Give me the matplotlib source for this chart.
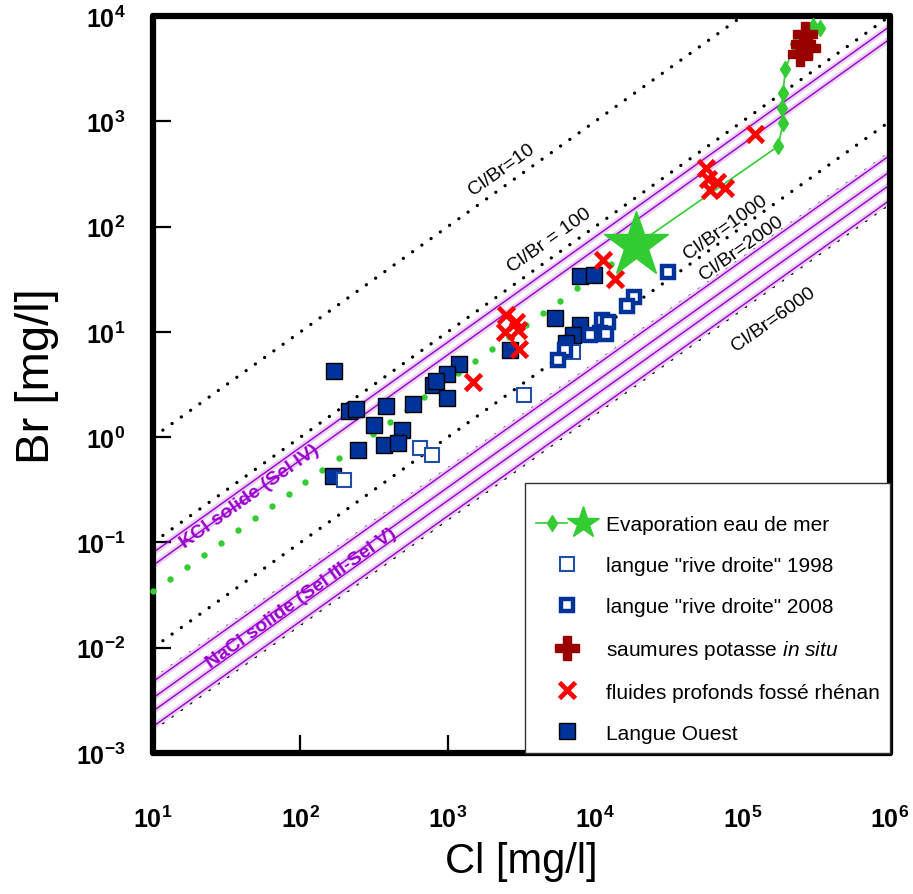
import numpy as np
import matplotlib
matplotlib.use("Agg")
import matplotlib.pyplot as plt
from matplotlib.lines import Line2D
from matplotlib.patches import Rectangle
from matplotlib.legend_handler import HandlerTuple

plt.rcParams['font.family'] = ['Liberation Sans', 'DejaVu Sans']
plt.rcParams['mathtext.fontset'] = 'custom'
plt.rcParams['mathtext.rm'] = 'Liberation Sans'
plt.rcParams['mathtext.bf'] = 'Liberation Sans:bold'
plt.rcParams['mathtext.it'] = 'Liberation Sans:italic'

# --- data (mg/l) ---
# sea water dilution points (green dots)
dil_cl = [10, 13.0, 17.0, 22.1, 28.8, 37.6, 49.0, 63.8, 83.2, 108, 141, 184, 240, 313,
          407, 531, 692, 902, 1175, 1531, 1995, 2600, 3388, 4416, 5754, 7499, 9772, 12735]
dil_br = [0.0345, 0.0448, 0.0586, 0.0762, 0.0993, 0.130, 0.169, 0.220, 0.287, 0.372,
          0.486, 0.634, 0.828, 1.08, 1.40, 1.83, 2.39, 3.11, 4.05, 5.28, 6.88, 8.97,
          11.7, 15.2, 19.8, 25.9, 33.7, 43.9]

# sea water (star) and evaporation path
sw_cl, sw_br = 19000, 67
evap_cl = [19000, 174000, 188000, 185000, 188000, 195000, 227000, 301000, 335000]
evap_br = [67, 578, 957, 1330, 1850, 3130, 5410, 8030, 7690]
evap_mk_cl = evap_cl[1:]
evap_mk_br = evap_br[1:]

# langue "rive droite" 1998
rd98_cl = [197, 644, 777, 3270, 7110]
rd98_br = [0.389, 0.785, 0.674, 2.51, 6.45]

# langue "rive droite" 2008
rd08_cl = [31300, 18200, 16500, 11200, 12300, 10800, 11900, 9270, 6280, 5550]
rd08_br = [37.3, 21.5, 17.7, 13.0, 12.5, 9.78, 9.57, 9.36, 6.74, 5.41]

# saumures potasse in situ
pot_cl = [265000, 257000, 245000, 278000]
pot_br = [6740, 5410, 4350, 4950]

# fluides profonds fosse rhenan
fp_cl = [1473, 2466, 2880, 2427, 2972, 3020, 11380, 13700, 56600, 58400, 67300,
         60300, 76200, 121700]
fp_br = [3.34, 14.5, 12.4, 10.0, 10.4, 6.89, 48.5, 32.0, 357, 286, 268, 225, 230, 751]

# Langue Ouest
lo_cl = [168, 213, 237, 379, 578, 314, 486, 245, 367, 457, 166, 1183, 982, 789, 826,
         982, 2660, 7940, 9890, 5370, 7940, 7020, 6380]
lo_br = [4.26, 1.77, 1.85, 1.97, 2.06, 1.30, 1.17, 0.75, 0.84, 0.88, 0.43, 4.96, 3.98,
         3.13, 3.41, 2.35, 6.74, 34.1, 34.9, 13.6, 11.7, 9.36, 7.85]

# Cl/Br reference ratios and solid salt bands
ratios = [10, 100, 1000, 2000, 6000]
ratio_labels = ["Cl/Br=10", "Cl/Br = 100", "Cl/Br=1000", "Cl/Br=2000", "Cl/Br=6000"]
ratio_label_pos = [(2300, 350), (4900, 75), (77000, 99), (97500, 62.6), (163000, 13.2)]
kcl_ratios = [125, 165]
nacl_ratios = [2100, 3000, 4000, 5600]

GREEN = '#33cc33'
NAVY = '#003399'
PURPLE = '#9900cc'

fig = plt.figure(figsize=(9.13, 8.95), dpi=100)
ax = fig.add_axes([0.1676, 0.1575, 0.8072, 0.8235])
ax.set_xscale('log')
ax.set_yscale('log')
ax.set_xlim(10, 1e6)
ax.set_ylim(1e-3, 1e4)

cl_line = np.array([1.0, 1e7])

for r in ratios:
    ax.plot(cl_line, cl_line / r, color='black', lw=2.4,
            linestyle=(0, (0.01, 3.4)), dash_capstyle='round', zorder=1)

for r in kcl_ratios + nacl_ratios:
    ax.plot(cl_line, cl_line / r, color='#ead0f5', lw=4.2, zorder=1.5)
    ax.plot(cl_line, cl_line / r, color=PURPLE, lw=1.0, zorder=1.6)

ang = 35.5
for lab, (x, y) in zip(ratio_labels, ratio_label_pos):
    ax.text(x, y, lab, rotation=ang, rotation_mode='anchor', ha='center',
            va='center', fontsize=14, color='black', zorder=2)
ax.text(45.5, 0.277, "KCl solide (Sel IV)", rotation=ang, rotation_mode='anchor',
        ha='center', va='center', fontsize=14, fontweight='bold', color=PURPLE, zorder=2)
ax.text(101, 0.0303, "NaCl solide (Sel III-Sel V)", rotation=ang, rotation_mode='anchor',
        ha='center', va='center', fontsize=14, fontweight='bold', color=PURPLE, zorder=2)

# sea water dilution + evaporation
ax.plot(dil_cl, dil_br, linestyle='none', marker='o', ms=4.6, color=GREEN,
        mec='none', zorder=3, clip_on=False)
ax.plot(evap_cl, evap_br, color=GREEN, lw=1.2, zorder=3)
ax.plot(evap_mk_cl, evap_mk_br, linestyle='none', marker='d', ms=7.8, color=GREEN,
        mec=GREEN, zorder=3)

ax.plot(lo_cl, lo_br, linestyle='none', marker='s', ms=11, mfc=NAVY, mec='black',
        mew=1.0, zorder=4)
ax.plot(rd98_cl, rd98_br, linestyle='none', marker='s', ms=10.5, mfc='white',
        mec='#1f4fa8', mew=1.5, zorder=4)
ax.plot(rd08_cl, rd08_br, linestyle='none', marker='s', ms=8.5, mfc='white',
        mec=NAVY, mew=3.2, zorder=4)
ax.plot(fp_cl, fp_br, linestyle='none', marker='x', ms=11, mec='#ff0000',
        mew=3.4, zorder=5)
ax.plot(sw_cl, sw_br, linestyle='none', marker='*', ms=49, color=GREEN,
        mec=GREEN, zorder=5)
ax.plot(pot_cl, pot_br, linestyle='none', marker='P', ms=17, color='#990000',
        mec='#990000', zorder=6)

# axes styling
for sp in ax.spines.values():
    sp.set_linewidth(4.5)
    sp.set_capstyle('round')
    sp.set_joinstyle('round')

ax.minorticks_off()
ax.set_xticks([10.0 ** k for k in range(1, 7)])
ax.set_yticks([10.0 ** k for k in range(-3, 5)])
ax.set_xticklabels([r'$\mathbf{10^{%d}}$' % k for k in range(1, 7)])
ax.set_yticklabels([r'$\mathbf{10^{%d}}$' % k for k in range(-3, 5)])
ax.tick_params(axis='both', which='major', direction='in', length=13, width=1.6,
               labelsize=18)
ax.tick_params(axis='x', pad=38)
ax.tick_params(axis='y', pad=20)

ax.set_xlabel("Cl [mg/l]", fontsize=30, labelpad=6)
ax.set_ylabel("Br [mg/l]", fontsize=34)
ax.yaxis.set_label_coords(-0.128, 0.513)

# legend frame box
ax.add_patch(Rectangle((0.505, 0.0), 0.495, 0.366, transform=ax.transAxes,
                       facecolor='white', edgecolor='#333333', lw=1.0,
                       zorder=9, clip_on=False))

h_evap = (Line2D([], [], color=GREEN, lw=1.2, marker='d', ms=7.8, mec=GREEN),
          Line2D([], [], linestyle='none', marker='*', ms=24, color=GREEN, mec=GREEN))
h98 = Line2D([], [], linestyle='none', marker='s', ms=10.5, mfc='white', mec='#1f4fa8', mew=1.5)
h08 = Line2D([], [], linestyle='none', marker='s', ms=8.5, mfc='white', mec=NAVY, mew=3.2)
hpot = Line2D([], [], linestyle='none', marker='P', ms=17, color='#990000', mec='#990000')
hfp = Line2D([], [], linestyle='none', marker='x', ms=11, mec='#ff0000', mew=3.4)
hlo = Line2D([], [], linestyle='none', marker='s', ms=11, mfc=NAVY, mec='black', mew=1.0)

leg = ax.legend([h_evap, h98, h08, hpot, hfp, hlo],
                ["Evaporation eau de mer", 'langue "rive droite" 1998',
                 'langue "rive droite" 2008', r'saumures potasse $\mathit{in\ situ}$',
                 "fluides profonds fossé rhénan", "Langue Ouest"],
                handler_map={tuple: HandlerTuple(ndivide=None, pad=0.0)},
                loc='lower right', bbox_to_anchor=(1.0, 0.0), borderaxespad=0.0,
                fontsize=15, frameon=False, handlelength=3.0, handletextpad=0.35,
                labelspacing=1.05, borderpad=0.5)
leg.set_zorder(10)

fig.savefig("out.png", dpi=100)
